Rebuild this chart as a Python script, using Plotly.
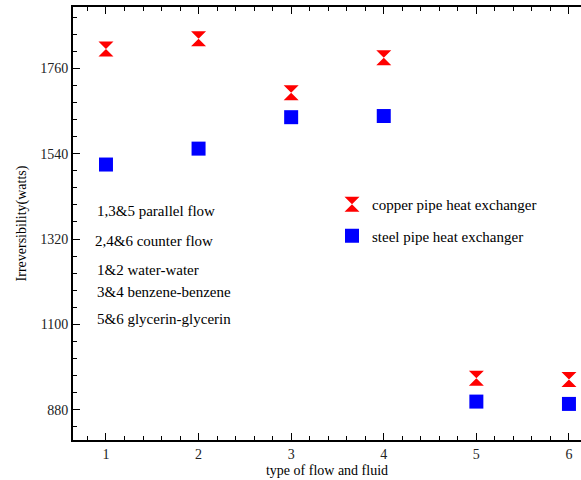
import plotly.graph_objects as go

categories = [1, 2, 3, 4, 5, 6]
copper_vals = [1810, 1836, 1697, 1787, 961, 958]
steel_vals = [1512, 1553, 1634, 1637, 901, 895]
y_ticks = [880, 1100, 1320, 1540, 1760]
notes = ["1,3&5 parallel flow", "2,4&6 counter flow", "1&2 water-water",
         "3&4 benzene-benzene", "5&6 glycerin-glycerin"]

FONT = "Liberation Serif, Times New Roman, serif"
W, H = 581, 480
ML, MR, MT, MB = 73, 0, 7, 40

fig = go.Figure()
fig.add_trace(go.Scatter(
    x=categories, y=copper_vals, mode="markers", name="copper pipe heat exchanger",
    legendgroup="a",
    marker=dict(symbol="hourglass", size=15, color="#ff0000", line=dict(width=0)),
))
fig.add_trace(go.Scatter(
    x=categories, y=steel_vals, mode="markers", name="steel pipe heat exchanger",
    legendgroup="b",
    marker=dict(symbol="square", size=14, color="#0000ff", line=dict(width=0)),
))

axis_common = dict(
    showgrid=False, zeroline=False, showline=True, linecolor="black", linewidth=2,
    ticks="inside", tickcolor="black", tickwidth=1, ticklen=7, automargin=False,
    tickfont=dict(family=FONT, size=14, color="#222"),
)

fig.update_layout(
    width=W, height=H,
    margin=dict(l=ML, r=MR, t=MT, b=MB, pad=0, autoexpand=False),
    paper_bgcolor="white", plot_bgcolor="white",
    font=dict(family=FONT, size=14, color="black"),
    xaxis=dict(
        **axis_common, range=[0.644, 6.13], tickmode="array", tickvals=categories,
        mirror="ticks",
        minor=dict(dtick=0.2, tick0=0, ticks="inside", ticklen=4, tickcolor="black", tickwidth=1),
        title=dict(text="type of flow and fluid", font=dict(family=FONT, size=14), standoff=4),
    ),
    yaxis=dict(
        **axis_common, range=[802, 1918], tickmode="array", tickvals=y_ticks,
        minor=dict(dtick=44, tick0=880, ticks="inside", ticklen=4, tickcolor="black", tickwidth=1),
        title=dict(text="Irreversibility(watts)", font=dict(family=FONT, size=14), standoff=10),
    ),
    yaxis2=dict(
        overlaying="y", side="right", matches="y", showline=False, showgrid=False,
        zeroline=False, ticks="inside", ticklen=7, tickcolor="black", automargin=False,
        tickmode="array", tickvals=y_ticks, showticklabels=False,
    ),
    showlegend=True,
    legend=dict(
        x=(332 - ML) / (W - ML - MR), y=1 - (188 - MT) / (H - MT - MB),
        xanchor="left", yanchor="top", bgcolor="rgba(0,0,0,0)",
        font=dict(family=FONT, size=15), traceorder="grouped", tracegroupgap=9,
    ),
)

note_y = [211, 241, 270, 292, 319]
note_x = [97, 95, 97, 97, 97]
for t, px, py in zip(notes, note_x, note_y):
    fig.add_annotation(
        text=t, xref="paper", yref="paper", showarrow=False,
        x=(px - ML) / (W - ML - MR), y=1 - (py - MT) / (H - MT - MB),
        xanchor="left", yanchor="middle", xshift=-2, font=dict(family=FONT, size=15),
    )

fig.write_html("out.html", config={"displayModeBar": False},
               post_script="document.body.style.margin='0px';")
